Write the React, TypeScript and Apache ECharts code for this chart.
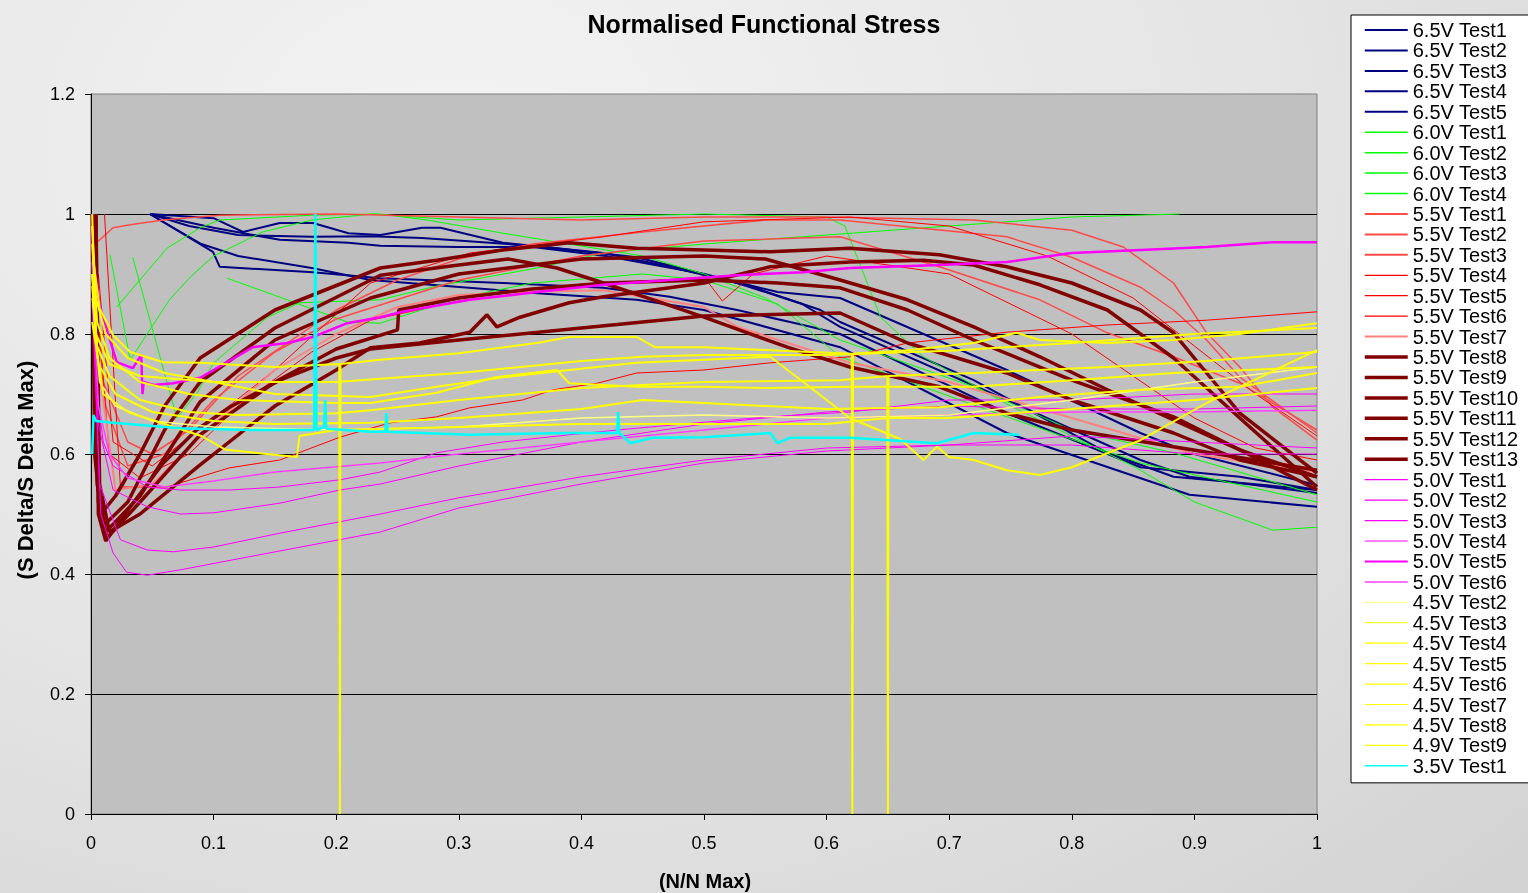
import React, { useEffect, useRef } from "react";
import * as echarts from "echarts";

type P = [number, number][];

const xTicks = [0, 0.1, 0.2, 0.3, 0.4, 0.5, 0.6, 0.7, 0.8, 0.9, 1];
const yTicks = [0, 0.2, 0.4, 0.6, 0.8, 1, 1.2];

// 6.5V
const v65t1: P = [[0.048,1],[0.1,0.993],[0.124,0.97],[0.154,0.985],[0.181,0.985],[0.21,0.968],[0.236,0.965],[0.27,0.977],[0.285,0.977],[0.336,0.952],[0.418,0.935],[0.472,0.912],[0.527,0.885],[0.58,0.85],[0.611,0.812],[0.747,0.69],[0.856,0.59],[0.896,0.562],[1,0.535]];
const v65t2: P = [[0.048,1],[0.1,0.977],[0.154,0.957],[0.21,0.952],[0.236,0.947],[0.3,0.945],[0.37,0.945],[0.445,0.928],[0.486,0.907],[0.54,0.878],[0.595,0.84],[0.611,0.82],[0.72,0.723],[0.829,0.602],[0.883,0.562],[1,0.54]];
const v65t3: P = [[0.048,1],[0.08,0.98],[0.12,0.965],[0.18,0.962],[0.228,0.963],[0.27,0.96],[0.34,0.95],[0.42,0.93],[0.5,0.9],[0.56,0.87],[0.611,0.86],[0.747,0.74],[0.856,0.635],[0.896,0.602],[1,0.548]];
const v65t4: P = [[0.048,1],[0.0995,0.937],[0.105,0.912],[0.181,0.903],[0.236,0.893],[0.336,0.885],[0.418,0.877],[0.472,0.862],[0.527,0.84],[0.581,0.815],[0.611,0.8],[0.747,0.668],[0.856,0.578],[0.937,0.562],[1,0.54]];
const v65t5: P = [[0.048,1],[0.09,0.95],[0.12,0.93],[0.18,0.91],[0.228,0.89],[0.364,0.868],[0.445,0.857],[0.5,0.84],[0.611,0.778],[0.747,0.635],[0.896,0.532],[1,0.512]];
// 6.0V
const v60t1: P = [[0.0155,0.932],[0.032,0.757],[0.064,0.857],[0.081,0.895],[0.1,0.93],[0.14,0.97],[0.18,0.99],[0.23,1],[0.3,0.99],[0.4,0.995],[0.5,1],[0.6,0.995],[0.615,0.98],[0.644,0.828],[0.679,0.762],[0.75,0.68],[0.85,0.58],[0.9,0.52],[0.964,0.473],[1,0.478]];
const v60t2: P = [[0.021,0.845],[0.062,0.943],[0.089,0.977],[0.105,0.99],[0.18,0.998],[0.236,1],[0.274,0.99],[0.336,0.968],[0.39,0.95],[0.45,0.93],[0.5,0.9],[0.55,0.86],[0.611,0.79],[0.72,0.712],[0.8,0.64],[0.883,0.602],[1,0.532]];
const v60t3: P = [[0.034,0.928],[0.07,0.66],[0.087,0.703],[0.1,0.752],[0.144,0.828],[0.17,0.852],[0.236,0.857],[0.282,0.88],[0.364,0.91],[0.418,0.935],[0.5,0.95],[0.6,0.965],[0.7,0.98],[0.8,0.995],[0.888,1]];
const v60t4: P = [[0.111,0.893],[0.16,0.857],[0.209,0.82],[0.236,0.818],[0.3,0.86],[0.36,0.885],[0.45,0.9],[0.5,0.89],[0.56,0.85],[0.611,0.762],[0.747,0.662],[0.856,0.585],[1,0.52]];
// 5.5V
const v55t1: P = [[0.005,0.953],[0.018,0.977],[0.032,0.982],[0.059,0.99],[0.105,0.998],[0.2,1],[0.3,0.995],[0.4,0.99],[0.5,0.995],[0.6,0.995],[0.72,0.99],[0.8,0.973],[0.842,0.945],[0.883,0.885],[0.91,0.802],[0.937,0.745],[0.964,0.678],[1,0.623]];
const v55t2: P = [[0.003,0.9],[0.01,0.72],[0.03,0.62],[0.05,0.6],[0.08,0.64],[0.12,0.73],[0.2,0.84],[0.25,0.89],[0.3,0.925],[0.36,0.95],[0.45,0.97],[0.55,0.99],[0.611,0.99],[0.747,0.962],[0.8,0.928],[0.856,0.878],[0.883,0.84],[0.91,0.79],[0.937,0.728],[1,0.635]];
const v55t3: P = [[0.004,0.85],[0.012,0.68],[0.03,0.58],[0.06,0.6],[0.1,0.69],[0.15,0.77],[0.2,0.825],[0.3,0.89],[0.4,0.93],[0.5,0.955],[0.611,0.962],[0.692,0.912],[0.774,0.857],[0.829,0.802],[0.883,0.762],[0.937,0.718],[1,0.64]];
const v55t4: P = [[0.011,1],[0.024,0.545],[0.046,0.545],[0.062,0.545],[0.113,0.577],[0.154,0.59],[0.203,0.628],[0.244,0.652],[0.282,0.662],[0.309,0.677],[0.352,0.69],[0.377,0.707],[0.413,0.718],[0.445,0.735],[0.5,0.74],[0.554,0.752],[0.619,0.762],[0.666,0.785],[0.747,0.803],[0.829,0.815],[0.91,0.823],[1,0.837]];
const v55t5: P = [[0.006,0.9],[0.018,0.62],[0.05,0.58],[0.1,0.66],[0.15,0.74],[0.228,0.885],[0.309,0.935],[0.418,0.962],[0.5,0.987],[0.619,0.995],[0.7,0.98],[0.78,0.93],[0.85,0.86],[0.9,0.78],[0.95,0.7],[1,0.63]];
const v55t6: P = [[0.005,0.85],[0.015,0.6],[0.04,0.56],[0.08,0.6],[0.12,0.68],[0.18,0.77],[0.228,0.823],[0.3,0.855],[0.4,0.88],[0.5,0.895],[0.515,0.855],[0.54,0.9],[0.6,0.93],[0.7,0.9],[0.8,0.8],[0.85,0.73],[0.9,0.66],[0.95,0.61],[1,0.59]];
const v55t7: P = [[0.006,0.75],[0.02,0.54],[0.05,0.55],[0.1,0.65],[0.15,0.74],[0.2,0.8],[0.25,0.845],[0.3,0.865],[0.35,0.87],[0.418,0.873],[0.5,0.845],[0.527,0.812],[0.619,0.752],[0.7,0.72],[0.8,0.66],[0.9,0.6],[1,0.57]];
const v55t8: P = [[0.001,1],[0.003,0.6],[0.008,0.5],[0.02,0.53],[0.04,0.6],[0.06,0.68],[0.089,0.76],[0.15,0.84],[0.236,0.91],[0.282,0.923],[0.336,0.94],[0.39,0.952],[0.445,0.943],[0.5,0.94],[0.554,0.937],[0.619,0.943],[0.692,0.932],[0.747,0.912],[0.8,0.885],[0.856,0.84],[0.883,0.802],[0.91,0.735],[0.937,0.668],[1,0.568]];
const v55t9: P = [[0.002,1],[0.004,0.6],[0.01,0.48],[0.03,0.52],[0.06,0.64],[0.089,0.72],[0.15,0.81],[0.236,0.898],[0.3,0.915],[0.34,0.925],[0.38,0.91],[0.418,0.885],[0.5,0.828],[0.568,0.778],[0.619,0.745],[0.692,0.712],[0.747,0.668],[0.8,0.64],[0.883,0.612],[1,0.573]];
const v55t10: P = [[0.003,1],[0.005,0.55],[0.012,0.47],[0.04,0.53],[0.089,0.687],[0.15,0.79],[0.228,0.86],[0.3,0.9],[0.4,0.925],[0.5,0.93],[0.55,0.925],[0.611,0.89],[0.666,0.857],[0.72,0.812],[0.774,0.762],[0.829,0.707],[0.883,0.657],[0.937,0.607],[1,0.562]];
const v55t11: P = [[0.004,1],[0.007,0.55],[0.015,0.47],[0.04,0.5],[0.089,0.582],[0.15,0.68],[0.2,0.74],[0.228,0.777],[0.268,0.785],[0.309,0.803],[0.323,0.832],[0.331,0.812],[0.35,0.828],[0.39,0.852],[0.418,0.862],[0.472,0.877],[0.5,0.885],[0.554,0.912],[0.619,0.92],[0.679,0.923],[0.72,0.915],[0.774,0.882],[0.829,0.84],[0.883,0.76],[0.937,0.66],[1,0.545]];
const v55t12: P = [[0.003,1],[0.006,0.52],[0.013,0.46],[0.04,0.52],[0.089,0.632],[0.15,0.72],[0.2,0.775],[0.25,0.807],[0.251,0.84],[0.3,0.86],[0.36,0.875],[0.42,0.885],[0.5,0.89],[0.56,0.885],[0.611,0.877],[0.666,0.84],[0.72,0.79],[0.8,0.723],[0.883,0.662],[0.937,0.607],[1,0.54]];
const v55t13: P = [[0.004,1],[0.006,0.5],[0.012,0.455],[0.032,0.512],[0.059,0.585],[0.086,0.64],[0.113,0.678],[0.154,0.723],[0.2,0.76],[0.228,0.775],[0.3,0.79],[0.4,0.81],[0.5,0.83],[0.611,0.835],[0.666,0.785],[0.747,0.735],[0.8,0.69],[0.883,0.635],[0.937,0.59],[1,0.562]];
// 5.0V
const v50t1: P = [[0.001,0.95],[0.005,0.7],[0.01,0.62],[0.018,0.58],[0.046,0.545],[0.073,0.54],[0.113,0.54],[0.154,0.545],[0.203,0.557],[0.236,0.57],[0.282,0.602],[0.336,0.62],[0.39,0.632],[0.445,0.643],[0.5,0.653],[0.554,0.662],[0.619,0.67],[0.7,0.69],[0.8,0.69],[0.9,0.7],[1,0.7]];
const v50t2: P = [[0.001,0.9],[0.006,0.65],[0.018,0.54],[0.046,0.512],[0.073,0.5],[0.1,0.502],[0.154,0.518],[0.203,0.54],[0.236,0.55],[0.3,0.58],[0.4,0.62],[0.5,0.65],[0.6,0.67],[0.7,0.68],[0.8,0.675],[0.9,0.675],[1,0.68]];
const v50t3: P = [[0.001,0.88],[0.007,0.55],[0.024,0.457],[0.046,0.44],[0.067,0.437],[0.1,0.445],[0.154,0.468],[0.236,0.5],[0.3,0.527],[0.4,0.562],[0.5,0.59],[0.6,0.61],[0.7,0.615],[0.8,0.63],[0.9,0.62],[1,0.61]];
const v50t4: P = [[0.001,0.85],[0.008,0.5],[0.018,0.435],[0.029,0.403],[0.046,0.398],[0.073,0.407],[0.127,0.428],[0.236,0.47],[0.3,0.51],[0.4,0.55],[0.5,0.585],[0.6,0.605],[0.7,0.615],[0.8,0.615],[0.9,0.6],[1,0.6]];
const v50t5: P = [[0.001,0.98],[0.002,0.92],[0.007,0.848],[0.015,0.793],[0.021,0.753],[0.034,0.743],[0.041,0.765],[0.042,0.7],[0.043,0.72],[0.051,0.715],[0.067,0.718],[0.089,0.727],[0.132,0.778],[0.16,0.785],[0.181,0.795],[0.209,0.818],[0.236,0.828],[0.254,0.837],[0.309,0.857],[0.364,0.87],[0.418,0.882],[0.472,0.89],[0.527,0.898],[0.581,0.903],[0.619,0.91],[0.692,0.915],[0.747,0.92],[0.8,0.935],[0.856,0.94],[0.91,0.945],[0.964,0.953],[1,0.953]];
const v50t6: P = [[0.001,0.92],[0.006,0.68],[0.015,0.6],[0.03,0.56],[0.06,0.545],[0.1,0.555],[0.15,0.57],[0.236,0.585],[0.3,0.6],[0.4,0.62],[0.5,0.64],[0.6,0.66],[0.7,0.665],[0.8,0.67],[0.9,0.67],[1,0.673]];
// 4.5V / 4.9V
const v45t2: P = [[0.001,0.86],[0.007,0.72],[0.02,0.68],[0.05,0.655],[0.1,0.645],[0.2,0.64],[0.3,0.645],[0.4,0.66],[0.5,0.665],[0.6,0.66],[0.7,0.665],[0.8,0.69],[0.9,0.72],[1,0.745]];
const v45t3: P = [[0.001,1],[0.002,0.92],[0.007,0.843],[0.018,0.798],[0.032,0.77],[0.059,0.753],[0.089,0.752],[0.15,0.745],[0.2025,0.75],[0.203,0],[0.2035,0.75],[0.236,0.757],[0.3,0.768],[0.364,0.785],[0.39,0.795],[0.445,0.795],[0.46,0.778],[0.5,0.778],[0.554,0.773],[0.6205,0.767],[0.621,0],[0.6215,0.767],[0.666,0.773],[0.72,0.785],[0.755,0.802],[0.774,0.79],[0.829,0.785],[0.883,0.79],[0.937,0.8],[1,0.818]];
const v45t4: P = [[0.001,0.98],[0.004,0.86],[0.012,0.8],[0.03,0.76],[0.06,0.735],[0.1,0.72],[0.15,0.7],[0.228,0.695],[0.282,0.712],[0.336,0.728],[0.39,0.74],[0.445,0.752],[0.5,0.757],[0.554,0.762],[0.581,0.72],[0.619,0.66],[0.66,0.625],[0.679,0.59],[0.69,0.612],[0.7,0.595],[0.72,0.59],[0.747,0.573],[0.774,0.565],[0.8,0.578],[0.856,0.623],[0.91,0.685],[0.937,0.712],[1,0.773]];
const v45t5: P = [[0.001,0.95],[0.005,0.82],[0.015,0.76],[0.04,0.72],[0.08,0.7],[0.12,0.69],[0.2,0.685],[0.228,0.685],[0.282,0.702],[0.33,0.728],[0.38,0.74],[0.39,0.718],[0.445,0.712],[0.5,0.712],[0.554,0.71],[0.619,0.712],[0.72,0.712],[0.8,0.723],[0.883,0.735],[1,0.745]];
const v45t6: P = [[0.001,0.9],[0.005,0.78],[0.015,0.73],[0.04,0.69],[0.08,0.67],[0.12,0.665],[0.2,0.668],[0.228,0.673],[0.3,0.69],[0.4,0.71],[0.5,0.72],[0.611,0.723],[0.6495,0.73],[0.65,0],[0.6505,0.73],[0.72,0.735],[0.829,0.745],[0.91,0.755],[1,0.77]];
const v45t7: P = [[0.001,0.88],[0.006,0.75],[0.02,0.7],[0.05,0.67],[0.1,0.655],[0.15,0.65],[0.228,0.652],[0.3,0.66],[0.4,0.675],[0.45,0.69],[0.5,0.685],[0.6,0.675],[0.692,0.678],[0.774,0.695],[0.856,0.707],[0.937,0.712],[1,0.735]];
const v45t8: P = [[0.001,0.82],[0.01,0.7],[0.03,0.67],[0.06,0.65],[0.09,0.63],[0.11,0.607],[0.168,0.595],[0.17,0.63],[0.2,0.64],[0.3,0.645],[0.4,0.65],[0.5,0.65],[0.6,0.65],[0.65,0.66],[0.7,0.66],[0.8,0.675],[0.9,0.69],[1,0.71]];
const v49t9: P = [[0.001,0.9],[0.004,0.8],[0.015,0.75],[0.04,0.73],[0.1,0.72],[0.2,0.72],[0.3,0.735],[0.4,0.755],[0.45,0.762],[0.5,0.765],[0.6,0.765],[0.7,0.772],[0.8,0.785],[0.9,0.8],[1,0.81]];
// 3.5V
const v35t1: P = [[0.001,0.6],[0.002,0.665],[0.004,0.655],[0.018,0.652],[0.073,0.643],[0.127,0.64],[0.182,0.64],[0.183,1],[0.184,0.64],[0.19,0.645],[0.191,0.69],[0.192,0.642],[0.228,0.637],[0.24,0.637],[0.241,0.668],[0.242,0.637],[0.309,0.632],[0.39,0.635],[0.429,0.635],[0.43,0.67],[0.431,0.635],[0.44,0.618],[0.458,0.627],[0.5,0.628],[0.554,0.635],[0.56,0.618],[0.57,0.627],[0.619,0.627],[0.69,0.618],[0.72,0.635],[0.757,0.632]];

const seriesNames = [
  "6.5V Test1","6.5V Test2","6.5V Test3","6.5V Test4","6.5V Test5",
  "6.0V Test1","6.0V Test2","6.0V Test3","6.0V Test4",
  "5.5V Test1","5.5V Test2","5.5V Test3","5.5V Test4","5.5V Test5","5.5V Test6","5.5V Test7",
  "5.5V Test8","5.5V Test9","5.5V Test10","5.5V Test11","5.5V Test12","5.5V Test13",
  "5.0V Test1","5.0V Test2","5.0V Test3","5.0V Test4","5.0V Test5","5.0V Test6",
  "4.5V Test2","4.5V Test3","4.5V Test4","4.5V Test5","4.5V Test6","4.5V Test7","4.5V Test8","4.9V Test9",
  "3.5V Test1",
];
const seriesData: P[] = [
  v65t1, v65t2, v65t3, v65t4, v65t5,
  v60t1, v60t2, v60t3, v60t4,
  v55t1, v55t2, v55t3, v55t4, v55t5, v55t6, v55t7,
  v55t8, v55t9, v55t10, v55t11, v55t12, v55t13,
  v50t1, v50t2, v50t3, v50t4, v50t5, v50t6,
  v45t2, v45t3, v45t4, v45t5, v45t6, v45t7, v45t8, v49t9,
  v35t1,
];

function styleFor(name: string): { color: string; width: number; legendWidth: number } {
  if (name.startsWith("6.5V")) return { color: "#000080", width: 2, legendWidth: 2 };
  if (name.startsWith("6.0V")) return { color: "#00ff00", width: 1, legendWidth: 1.5 };
  if (name.startsWith("5.5V")) {
    const n = parseInt(name.split("Test")[1], 10);
    if (n <= 3) return { color: "#ff4a4a", width: 1.5, legendWidth: 2 };
    if (n <= 6) return { color: "#ff0000", width: 1, legendWidth: 1.2 };
    if (n === 7) return { color: "#ff8080", width: 2, legendWidth: 2 };
    return { color: "#800000", width: 3.5, legendWidth: 3.5 };
  }
  if (name.startsWith("5.0V")) {
    if (name.endsWith("Test5")) return { color: "#ff00ff", width: 2.5, legendWidth: 2 };
    if (name.endsWith("Test6")) return { color: "#ff40ff", width: 1.5, legendWidth: 1.5 };
    return { color: "#ff00ff", width: 1, legendWidth: 1.2 };
  }
  if (name.startsWith("4.5V Test2")) return { color: "#ffff80", width: 1.5, legendWidth: 1 };
  if (name.startsWith("4.5V") || name.startsWith("4.9V")) return { color: "#ffff00", width: 2, legendWidth: 1.2 };
  return { color: "#00ffff", width: 2.5, legendWidth: 1.5 };
}

const FONT = "'Liberation Sans', Arial, sans-serif";

export default function App() {
  const ref = useRef<HTMLDivElement>(null);
  useEffect(() => {
    if (!ref.current) return;
    const chart = echarts.init(ref.current, undefined, { renderer: "svg" });
    const series = seriesNames.map((name, i) => {
      const s = styleFor(name);
      return {
        name,
        type: "line",
        data: seriesData[i],
        symbol: "none",
        showSymbol: false,
        lineStyle: { color: s.color, width: s.width },
        itemStyle: { color: s.color },
        z: 2,
      };
    });
    const legendData = seriesNames.map((name) => {
      const s = styleFor(name);
      return { name, itemStyle: { opacity: 0 }, lineStyle: { width: s.legendWidth, color: s.color } };
    });
    chart.setOption({
      animation: false,
      backgroundColor: "transparent",
      title: {
        text: "Normalised Functional Stress",
        left: "center",
        top: 6,
        textStyle: { fontFamily: FONT, fontWeight: "bold", fontSize: 25, color: "#000" },
      },
      grid: {
        left: 91, top: 94, right: 211, bottom: 79,
        show: true, backgroundColor: "#c0c0c0", borderColor: "#808080", borderWidth: 1,
      },
      xAxis: {
        type: "value", min: 0, max: 1, interval: 0.1,
        axisLine: { show: true, lineStyle: { color: "#000", width: 1 } },
        axisTick: { show: true, length: 6, lineStyle: { color: "#000" } },
        axisLabel: {
          fontFamily: FONT, fontSize: 18, color: "#000", margin: 20,
          formatter: (v: number) => (xTicks.includes(Math.round(v * 10) / 10) ? String(Math.round(v * 10) / 10) : ""),
        },
        splitLine: { show: false },
      },
      yAxis: {
        type: "value", min: 0, max: 1.2, interval: 0.2,
        axisLine: { show: true, lineStyle: { color: "#000", width: 1 } },
        axisTick: { show: true, length: 6, lineStyle: { color: "#000" } },
        axisLabel: {
          fontFamily: FONT, fontSize: 18, color: "#000", margin: 16,
          formatter: (v: number) => {
            const r = Math.round(v * 10) / 10;
            return yTicks.includes(r) ? String(r) : "";
          },
        },
        splitLine: { show: true, showMinLine: false, showMaxLine: false, lineStyle: { color: "#000", width: 1 } },
      },
      legend: {
        orient: "vertical",
        left: 1351,
        top: 15,
        padding: [5, 40, 7, 12],
        itemGap: 0.44,
        itemWidth: 43,
        itemHeight: 14,
        backgroundColor: "#ffffff",
        borderColor: "#000000",
        borderWidth: 1,
        itemStyle: { opacity: 0 },
        textStyle: { fontFamily: FONT, fontSize: 20, color: "#000" },
        data: legendData,
        selectedMode: false,
      },
      graphic: [
        {
          type: "text",
          x: 25,
          y: 470,
          rotation: Math.PI / 2,
          style: {
            text: "(S Delta/S Delta Max)",
            fontFamily: FONT,
            fontWeight: "bold",
            fontSize: 22,
            fill: "#000",
            textAlign: "center",
            textVerticalAlign: "middle",
          },
        },
        {
          type: "text",
          x: 705,
          y: 881,
          style: {
            text: "(N/N Max)",
            fontFamily: FONT,
            fontWeight: "bold",
            fontSize: 20,
            fill: "#000",
            textAlign: "center",
            textVerticalAlign: "middle",
          },
        },
      ],
      series,
    });
    return () => chart.dispose();
  }, []);
  return (
    <div
      style={{
        position: "fixed",
        left: 0,
        top: 0,
        width: 1528,
        height: 893,
        background: "radial-gradient(ellipse at 30% 15%, #f3f3f3 0%, #e4e4e4 55%, #d2d2d2 100%)",
      }}
    >
      <div ref={ref} style={{ width: 1528, height: 893 }} />
    </div>
  );
}
